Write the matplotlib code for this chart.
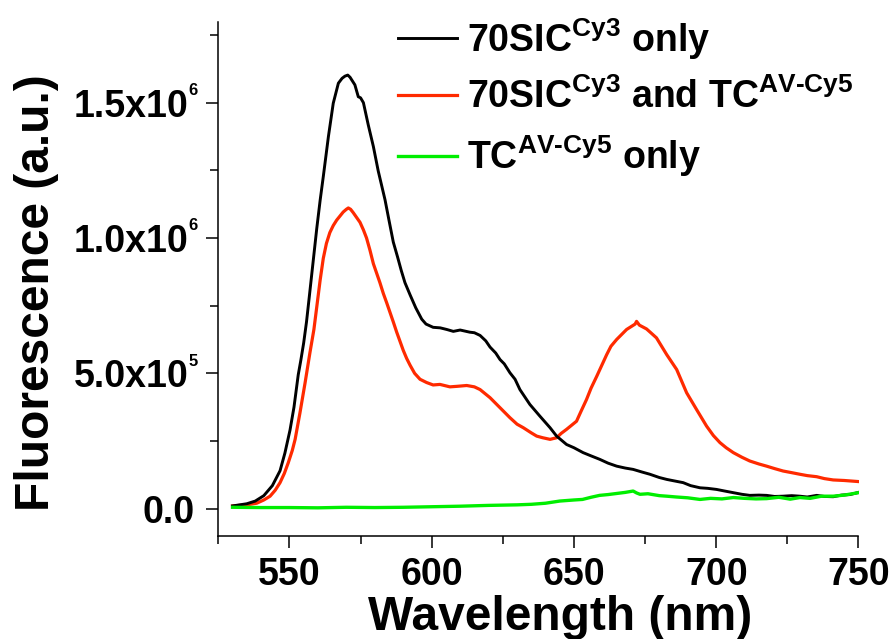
import matplotlib
matplotlib.use("Agg")
import matplotlib.pyplot as plt
import matplotlib.transforms as mtransforms
from matplotlib.ticker import MultipleLocator

# ---- spectra (wavelength in nm, fluorescence in a.u.) ----
wl_cy3 = [530, 535, 538, 541, 544, 546.7, 548.4, 550.2, 551.6, 553.1, 554, 555,
          556, 557, 558.3, 559.6, 560.8, 561.9, 563.7, 565.4, 567.2, 568.5, 569.5, 570.5, 571.3,
          573, 574.2, 575, 576, 577.7, 579.5, 581.2, 583.6, 585, 586.5, 588, 589.3, 590.6,
          592.4, 594.4, 596.5, 598, 600.5, 603, 605.3, 607.6, 610, 613.4, 615, 617,
          619, 620.5, 622.5, 624, 625.5, 627.5, 629.3, 631, 634.5, 638, 641.6, 643.9,
          647.4, 650, 653.2, 656, 659.1, 662, 665, 668, 670.8, 674, 676.7, 680, 682.6,
          685, 688.4, 691, 694.3, 697, 700.1, 703, 706, 709, 711.8, 715, 717.7, 720.5,
          723.5, 726.5, 729.4, 732, 735.3, 738, 741.1, 744, 747, 750]
fl_cy3 = [10e3, 18e3, 28e3, 48e3, 85e3, 140e3, 205e3, 290e3, 375e3, 495e3, 548e3, 612e3,
          690e3, 785e3, 910e3, 1035e3, 1140e3, 1227e3, 1375e3, 1498e3, 1572e3, 1590e3, 1598e3, 1602e3, 1594e3,
          1566e3, 1522e3, 1518e3, 1500e3, 1418e3, 1338e3, 1248e3, 1141e3, 1065e3, 985e3, 930e3, 880e3, 835e3,
          790e3, 742e3, 700e3, 682e3, 670e3, 668e3, 662e3, 655e3, 660e3, 652e3, 650e3, 640e3,
          620e3, 597e3, 575e3, 551e3, 535e3, 502e3, 478e3, 440e3, 385e3, 342e3, 299e3, 268e3,
          237e3, 225e3, 207e3, 195e3, 182e3, 168e3, 157e3, 150e3, 145e3, 135e3, 127e3, 115e3, 108e3,
          103e3, 96e3, 85e3, 77e3, 75e3, 71e3, 65e3, 59e3, 53e3, 49e3, 50e3, 49e3, 45e3,
          46e3, 48e3, 46e3, 43e3, 49e3, 45e3, 44e3, 50e3, 52e3, 60e3]

wl_fret = [530, 535, 538.5, 541, 543.2, 545, 546.7, 548.2, 549.6, 551, 552, 553.7, 555.5,
           557.2, 558.6, 559.6, 560.8, 561.9, 563, 564.2, 565.4, 566.6, 568.9, 570, 570.7, 571.5,
           572.4, 574.8, 576, 577.1, 578.3, 579.5, 581.8, 583, 584.2, 586.5, 587.7, 588.8, 590,
           591.2, 592.4, 594, 595.9, 598.2, 600.5, 602.9, 606.4, 609, 612.3, 615, 617, 620.5, 624,
           627.5, 630, 632.2, 635, 636.9, 639, 641.6, 643.9, 645.5, 647.4, 650.9, 652.5, 654.4,
           656, 658, 661.5, 663, 665, 668.5, 670, 671.5, 672, 673, 675.5, 677, 679, 682.6, 686.1,
           689.6, 693.1, 696.6, 699, 701.3, 703.5, 706, 709, 711.8, 715, 717.7, 720.5, 723.5,
           726.5, 729.4, 732, 735.3, 738, 741.1, 745, 750]
fl_fret = [10e3, 14e3, 20e3, 32e3, 46e3, 68e3, 96e3, 130e3, 170e3, 215e3, 256e3, 354e3, 465e3,
           576e3, 662e3, 745e3, 845e3, 925e3, 980e3, 1020e3, 1046e3, 1066e3, 1096e3, 1106e3, 1111e3, 1106e3,
           1094e3, 1058e3, 1030e3, 1000e3, 955e3, 905e3, 835e3, 795e3, 760e3, 690e3, 652e3, 620e3, 585e3,
           555e3, 530e3, 500e3, 478e3, 466e3, 457e3, 459e3, 450e3, 452e3, 455e3, 450e3, 440e3, 410e3, 373e3,
           336e3, 312e3, 299e3, 280e3, 268e3, 262e3, 256e3, 262e3, 278e3, 293e3, 323e3, 360e3, 403e3,
           445e3, 489e3, 569e3, 600e3, 625e3, 662e3, 672e3, 682e3, 692e3, 678e3, 664e3, 650e3, 631e3, 569e3,
           514e3, 428e3, 366e3, 305e3, 270e3, 244e3, 225e3, 207e3, 190e3, 176e3, 165e3, 157e3, 148e3, 139e3,
           133e3, 127e3, 122e3, 118e3, 111e3, 106e3, 104e3, 100e3]

wl_cy5 = [530, 540, 550, 560, 570, 580, 590, 600, 610, 620, 630, 635, 640, 645, 650, 653,
          656, 659, 662, 665, 668, 670.8, 672, 673.2, 676, 680, 682.6, 686, 690, 694.3, 698,
          702, 706, 710, 714, 717.7, 722, 726, 729.4, 733, 737, 741.1, 745, 750]
fl_cy5 = [5e3, 4e3, 4e3, 3e3, 5e3, 4e3, 5e3, 7e3, 9e3, 12e3, 14e3, 16e3, 20e3, 28e3, 32e3, 34e3,
          42e3, 49e3, 52e3, 56e3, 60e3, 65e3, 58e3, 53e3, 55e3, 48e3, 46e3, 43e3, 40e3, 34e3, 38e3,
          36e3, 41e3, 38e3, 36e3, 37e3, 42e3, 35e3, 41e3, 38e3, 46e3, 46e3, 50e3, 59e3]

series_labels = [
    r"$\mathbf{70SIC}^{\mathbf{Cy3}}$ only",
    r"$\mathbf{70SIC}^{\mathbf{Cy3}}$ and $\mathbf{TC}^{\mathbf{AV}\text{-}\mathbf{Cy5}}$",
    r"$\mathbf{TC}^{\mathbf{AV}\text{-}\mathbf{Cy5}}$ only",
]
series_colors = ["#000000", "#FF2A00", "#00EE00"]

ytick_vals = [0, 5e5, 1e6, 1.5e6]
ytick_mant = ["0.0", "5.0x10", "1.0x10", "1.5x10"]
ytick_exp = ["", "5", "6", "6"]

# ---- style ----
plt.rcParams["font.family"] = ["Liberation Sans", "DejaVu Sans"]
plt.rcParams["font.weight"] = "bold"
plt.rcParams["mathtext.fontset"] = "custom"
plt.rcParams["mathtext.rm"] = "Liberation Sans:bold"
plt.rcParams["mathtext.bf"] = "Liberation Sans:bold"
plt.rcParams["mathtext.it"] = "Liberation Sans:bold"
plt.rcParams["mathtext.sf"] = "Liberation Sans:bold"

W, H = 894, 639
fig = plt.figure(figsize=(W / 100, H / 100), dpi=100)
ax_l, ax_r, ax_b, ax_t = 218.3, 858.5, 535.7, 21.5
ax = fig.add_axes([ax_l / W, 1 - ax_b / H, (ax_r - ax_l) / W, (ax_b - ax_t) / H])

ax.plot(wl_cy3, fl_cy3, color=series_colors[0], lw=2.1, label=series_labels[0], zorder=3)
ax.plot(wl_fret, fl_fret, color=series_colors[1], lw=2.3, label=series_labels[1], zorder=2)
ax.plot(wl_cy5, fl_cy5, color=series_colors[2], lw=2.4, label=series_labels[2], zorder=4)

ax.set_xlim(525, 750)
ax.set_ylim(-1e5, 1.8e6)

for side in ("top", "right"):
    ax.spines[side].set_visible(False)
for side in ("left", "bottom"):
    ax.spines[side].set_linewidth(1.1)

ax.xaxis.set_major_locator(MultipleLocator(50))
ax.xaxis.set_minor_locator(MultipleLocator(25))
ax.yaxis.set_major_locator(MultipleLocator(5e5))
ax.yaxis.set_minor_locator(MultipleLocator(2.5e5))
ax.tick_params(which="both", direction="out", width=1.1, color="black")
ax.tick_params(which="major", length=8.4)
ax.tick_params(which="minor", length=5.5)
ax.tick_params(axis="x", labelsize=27, pad=7.0)
ax.tick_params(axis="y", labelleft=False)
for lab in ax.get_xticklabels():
    lab.set_fontweight("bold")

# y tick labels written as mantissa x 10 with a small raised exponent
trans = mtransforms.blended_transform_factory(ax.transAxes, ax.transData)
px = 0.72  # points per pixel at 100 dpi
for v, m, e in zip(ytick_vals, ytick_mant, ytick_exp):
    if e:
        ax.annotate(m, xy=(0, v), xycoords=trans, xytext=(-30 * px, 0),
                    textcoords="offset points", ha="right", va="center_baseline",
                    fontsize=27, fontweight="bold", annotation_clip=False)
        ax.annotate(e, xy=(0, v), xycoords=trans, xytext=(-29.5 * px, 7.7 * px),
                    textcoords="offset points", ha="left", va="baseline",
                    fontsize=12, fontweight="bold", annotation_clip=False)
    else:
        ax.annotate(m, xy=(0, v), xycoords=trans, xytext=(-23.3 * px, 0),
                    textcoords="offset points", ha="right", va="center_baseline",
                    fontsize=27, fontweight="bold", annotation_clip=False)

ax.set_xlabel("Wavelength (nm)", fontsize=34.5, fontweight="bold")
ax.xaxis.set_label_coords((560.5 - ax_l) / (ax_r - ax_l), -(595 - ax_b) / (ax_b - ax_t))
ax.xaxis.label.set_verticalalignment("top")

ax.set_ylabel("Fluorescence (a.u.)", fontsize=34.5, fontweight="bold")
ax.yaxis.set_label_coords((49.3 - ax_l) / (ax_r - ax_l), (ax_b - 292.5) / (ax_b - ax_t))
ax.yaxis.label.set_verticalalignment("baseline")

leg = ax.legend(loc="upper left", bbox_to_anchor=(398.3 / W, 1 - 16 / H),
                bbox_transform=fig.transFigure, frameon=False, borderpad=0,
                borderaxespad=0, handlelength=1.57, handletextpad=0.27,
                labelspacing=0.46, prop={"family": "Liberation Sans", "weight": "bold", "size": 27})

fig.savefig("out.png", dpi=100)
